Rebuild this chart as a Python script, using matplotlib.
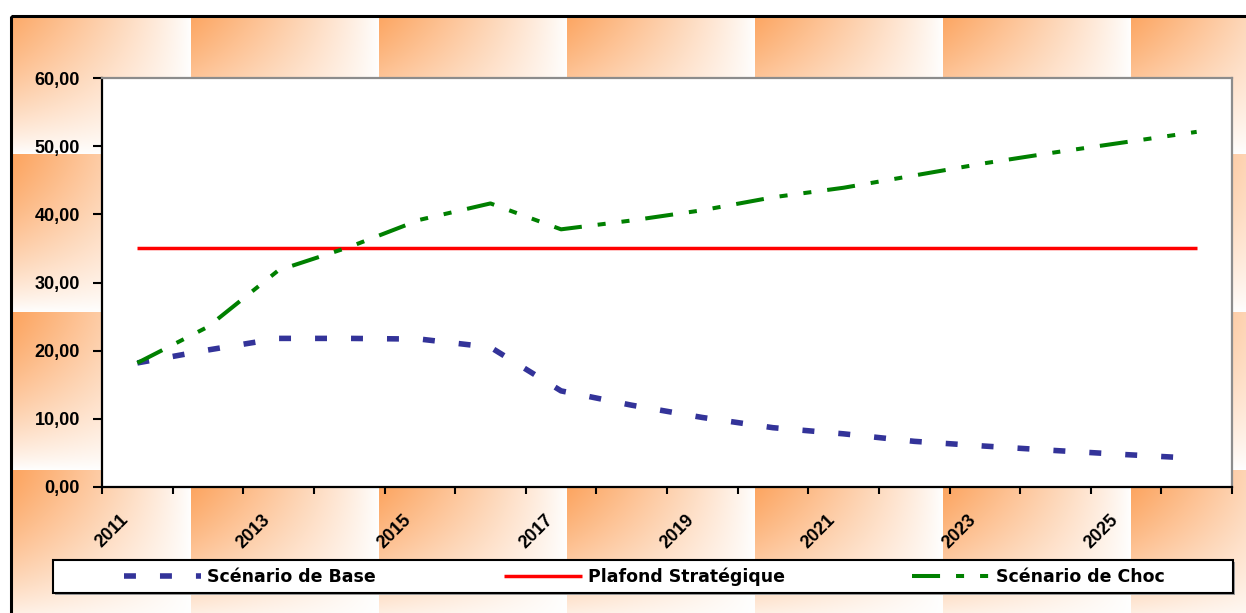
import numpy as np
import matplotlib
matplotlib.use("Agg")
import matplotlib.pyplot as plt
from matplotlib.patches import Rectangle
from matplotlib.ticker import FuncFormatter
from matplotlib.font_manager import FontProperties
import matplotlib.transforms as mtransforms

plt.rcParams["lines.scale_dashes"] = False

# ---- data ----
years = [2011, 2012, 2013, 2014, 2015, 2016, 2017, 2018,
         2019, 2020, 2021, 2022, 2023, 2024, 2025, 2026]
scenario_base = [18.2, 20.1, 21.8, 21.8, 21.7, 20.5, 14.1, 12.0,
                 10.2, 8.7, 7.8, 6.7, 6.0, 5.35, 4.75, 4.2]
plafond = [35.0] * 16
scenario_choc = [18.2, 23.5, 31.8, 35.2, 39.2, 41.6, 37.8, 39.1,
                 40.6, 42.5, 43.9, 45.7, 47.5, 49.1, 50.6, 52.1]
y_ticks = [0, 10, 20, 30, 40, 50, 60]
series_names = ["Scénario de Base", "Plafond Stratégique", "Scénario de Choc"]

W, H = 1246, 613
fig = plt.figure(figsize=(W / 100, H / 100), dpi=100)

# ---- tiled orange gradient background inside the outer frame ----
bg = fig.add_axes([0, 0, 1, 1], zorder=0)
bg.set_axis_off()
xx, yy = np.meshgrid(np.arange(W) + 0.5, np.arange(H) + 0.5)
tile_w, tile_h = 188.0, 158.0
u = ((xx - 3.0) % tile_w) / tile_w
v = ((yy + 4.0) % tile_h) / tile_h
alpha = ((1 - u) ** 1.0 * (1 - v ** 1.3)) ** 0.85
alpha = np.clip(alpha, 0, 1)
inside = (xx >= 11) & (yy >= 16)
alpha = np.where(inside, alpha, 0.0)
orange = np.array([252, 160, 88]) / 255.0
img = 1 - alpha[..., None] * (1 - orange[None, None, :])
bg.imshow(img, extent=(0, W, H, 0), aspect="auto", interpolation="bilinear")
bg.set_xlim(0, W)
bg.set_ylim(H, 0)
bg.add_patch(Rectangle((11, 16), W + 20, H + 20, fill=False,
                       edgecolor="black", linewidth=2.2))

# ---- plot area ----
left, right, top, bottom = 102, 1232, 78, 487
ax = fig.add_axes([left / W, 1 - bottom / H, (right - left) / W, (bottom - top) / H],
                  zorder=2)
ax.set_facecolor("white")

x = np.arange(len(years))
ax.plot(x, scenario_base, color="#333399", linewidth=4.0,
        linestyle=(0, (8.6, 17.3)), dash_capstyle="butt",
        solid_capstyle="butt", label=series_names[0])
ax.plot(x, plafond, color="#ff0000", linewidth=2.5,
        solid_capstyle="butt", label=series_names[1])
ax.plot(x, scenario_choc, color="#008000", linewidth=2.9,
        linestyle=(0, (20.2, 11.5, 5.8, 11.5, 5.8, 11.5)),
        dash_capstyle="butt", label=series_names[2])

ax.set_xlim(-0.5, len(years) - 0.5)
ax.set_ylim(0, 60)
ax.set_yticks(y_ticks)
ax.yaxis.set_major_formatter(FuncFormatter(lambda val, pos: f"{val:.2f}".replace(".", ",")))
ax.set_xticks(np.arange(-0.5, len(years)))
ax.set_xticklabels([])

tick_font = dict(family="Liberation Sans", weight="bold", size=13)
for lab in ax.get_yticklabels():
    lab.set_fontproperties(FontProperties(**tick_font))
ax.tick_params(axis="y", length=6.5, width=1.5, pad=9.4, color="black")
ax.tick_params(axis="x", length=5, width=1.5, color="black")

for side in ("left", "bottom"):
    ax.spines[side].set_color("black")
    ax.spines[side].set_linewidth(1.6)
for side in ("top", "right"):
    ax.spines[side].set_color("#8c8c8c")
    ax.spines[side].set_linewidth(1.6)

# year labels, every other category, rotated
offset = mtransforms.ScaledTranslation(-17 / 100, -24 / 100, fig.dpi_scale_trans)
trans = ax.get_xaxis_transform() + offset
for i, yr in enumerate(years):
    if i % 2 == 0:
        ax.text(i, 0, str(yr), transform=trans, rotation=45, rotation_mode="anchor",
                ha="right", va="top", clip_on=False, **tick_font)

# ---- legend ----
leg_l, leg_r, leg_t, leg_b = 53, 1233, 560, 593
fig.patches.append(Rectangle((leg_l / W + 0.0015, 1 - (leg_b + 2) / H),
                             (leg_r - leg_l) / W, (leg_b - leg_t) / H,
                             transform=fig.transFigure, facecolor="#9a9a9a",
                             edgecolor="none", zorder=3))
fig.patches.append(Rectangle((leg_l / W, 1 - leg_b / H), (leg_r - leg_l) / W,
                             (leg_b - leg_t) / H, transform=fig.transFigure,
                             facecolor="white", edgecolor="black",
                             linewidth=1.5, zorder=3))
fs_px = 17.4
handles, labels = ax.get_legend_handles_labels()
leg = fig.legend(handles, labels, loc="center",
                 bbox_to_anchor=((leg_l + leg_r) / 2 / W + 0.001,
                                 1 - (leg_t + leg_b) / 2 / H),
                 bbox_transform=fig.transFigure, ncol=3, frameon=False,
                 columnspacing=128 / fs_px, handlelength=78 / fs_px,
                 handletextpad=6 / fs_px, borderpad=0,
                 prop=dict(family="DejaVu Sans", weight="bold", size=12.5))
leg.set_zorder(5)

fig.savefig("out.png", dpi=100)
